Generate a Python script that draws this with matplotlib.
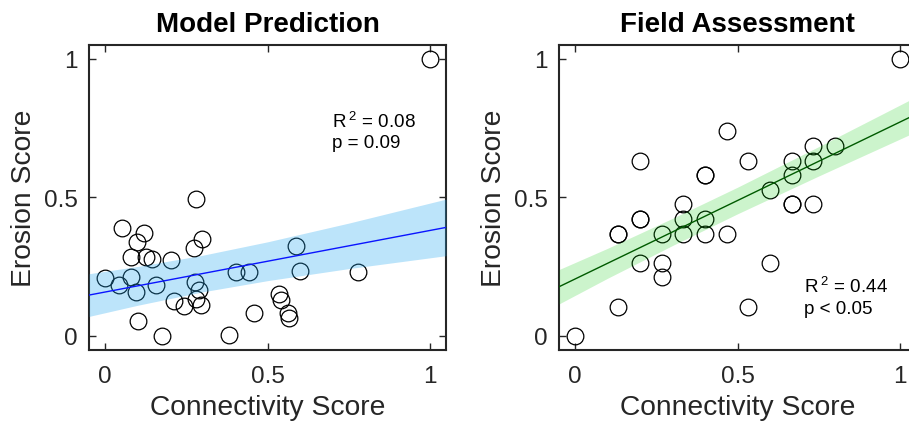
import matplotlib
matplotlib.use('Agg')
import matplotlib.pyplot as plt
import numpy as np

plt.rcParams['font.family'] = ['Liberation Sans', 'DejaVu Sans']
plt.rcParams['mathtext.fontset'] = 'custom'
plt.rcParams['mathtext.rm'] = 'Liberation Sans'

# Model prediction panel (connectivity vs erosion)
model_x = [1.0, 0.28, 0.052, 0.119, 0.099, 0.298, 0.275, 0.08, 0.127, 0.144,
           0.203, 0.587, 0.0, 0.078, 0.041, 0.095, 0.155, 0.403, 0.443, 0.599,
           0.78, 0.278, 0.29, 0.213, 0.242, 0.281, 0.296, 0.535, 0.543, 0.562,
           0.567, 0.458, 0.1, 0.176, 0.381]
model_y = [1.0, 0.493, 0.39, 0.37, 0.34, 0.35, 0.315, 0.283, 0.283, 0.277,
           0.272, 0.323, 0.207, 0.214, 0.183, 0.158, 0.184, 0.231, 0.229, 0.234,
           0.229, 0.193, 0.166, 0.126, 0.106, 0.132, 0.112, 0.15, 0.129, 0.081,
           0.063, 0.084, 0.054, 0.0, 0.002]

# Field assessment panel
field_x = [0.0, 1.0, 0.467, 0.2, 0.533, 0.4, 0.4, 0.667, 0.733, 0.8,
           0.733, 0.667, 0.6, 0.667, 0.667, 0.733, 0.333, 0.333, 0.4, 0.2,
           0.2, 0.133, 0.133, 0.267, 0.333, 0.4, 0.467, 0.2, 0.267, 0.267,
           0.6, 0.133, 0.533]
field_y = [0.0, 1.0, 0.737, 0.632, 0.632, 0.579, 0.579, 0.632, 0.684, 0.684,
           0.632, 0.579, 0.526, 0.474, 0.474, 0.474, 0.474, 0.421, 0.421, 0.421,
           0.421, 0.368, 0.368, 0.368, 0.368, 0.368, 0.368, 0.263, 0.263, 0.211,
           0.263, 0.105, 0.105]

# fitted lines and confidence bands
fit_x = [-0.05, 1.05]
model_fit = [0.147, 0.391]
field_fit = [0.177, 0.799]
band_x = [-0.05, 0.1, 0.3, 0.5, 0.75, 1.05]
model_half = [0.077, 0.070, 0.066, 0.070, 0.082, 0.102]
field_half = [0.062, 0.054, 0.049, 0.048, 0.053, 0.063]

fig = plt.figure(figsize=(9.09, 4.27), dpi=100)
ax1 = fig.add_axes([89 / 909, 76.3 / 427, 357 / 909, 305 / 427])
ax2 = fig.add_axes([559 / 909, 76.3 / 427, 357 / 909, 305 / 427])

panels = [
    (ax1, model_x, model_y, model_fit, model_half, '#22a7f0', 0.3, '#0a14ff',
     'Model Prediction', ['R$\\,^2$ = 0.08', 'p = 0.09'], 0.70, [0.778, 0.697]),
    (ax2, field_x, field_y, field_fit, field_half, '#00cc00', 0.2, '#005a00',
     'Field Assessment', ['R$\\,^2$ = 0.44', 'p < 0.05'], 0.704, [0.182, 0.098]),
]

for ax, xs, ys, fit, half, bcol, balpha, lcol, title, stat, tx, ty in panels:
    ax.plot(xs, ys, 'o', ms=12, mfc='none', mec='black', mew=0.9, zorder=2)
    bx = np.array(band_x)
    centre = np.interp(bx, fit_x, fit)
    ax.fill_between(bx, centre - np.array(half), centre + np.array(half),
                    color=bcol, alpha=balpha, lw=0, zorder=3)
    ax.plot(fit_x, fit, color=lcol, lw=1.0, zorder=4)
    for s, yy in zip(stat, ty):
        ax.text(tx, yy, s, fontsize=13.5, ha='left', va='center')

    ax.set_xlim(-0.05, 1.05)
    ax.set_ylim(-0.05, 1.05)
    ax.set_xticks([0, 0.5, 1])
    ax.set_xticklabels(['0', '0.5', '1'])
    ax.set_yticks([0, 0.5, 1])
    ax.set_yticklabels(['0', '0.5', '1'])
    ax.tick_params(direction='in', length=5, width=1.0, labelsize=17.5,
                   top=True, right=True, colors='#262626')
    ax.tick_params(axis='x', pad=11)
    ax.tick_params(axis='y', pad=8)
    for sp in ax.spines.values():
        sp.set_linewidth(1.5)
        sp.set_color('#262626')
    ax.set_xlabel('Connectivity Score', fontsize=20.3, color='#262626', labelpad=5)
    ax.set_ylabel('Erosion Score', fontsize=20.3, color='#262626', labelpad=5)
    ax.set_title(title, fontsize=20, fontweight='bold', pad=10)

fig.savefig('out.png', dpi=100)
